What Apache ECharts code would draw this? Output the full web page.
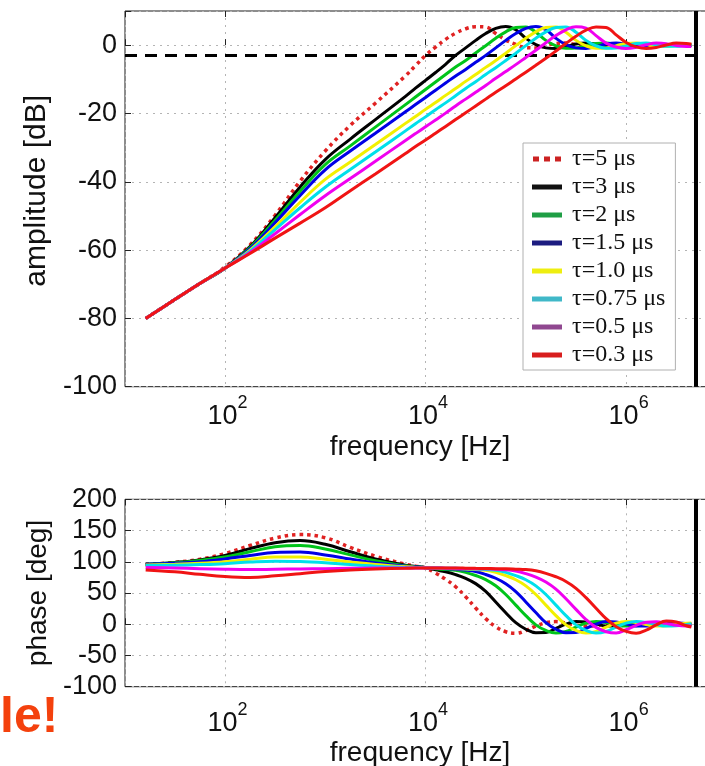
<!DOCTYPE html>
<html><head><meta charset="utf-8">
<script src="https://cdn.jsdelivr.net/npm/echarts@6/dist/echarts.min.js"></script>
<style>html,body{margin:0;padding:0;background:#fff;}#c{width:705px;height:766px;}</style>
</head><body><div id="c"></div>
<script>
// frequency = 10^exp Hz
const freqExp = [1.21, 1.5, 1.75, 2.0, 2.25, 2.5, 2.75, 3.0, 3.25, 3.5, 3.8, 3.9, 4.0, 4.1, 4.2, 4.3, 4.4, 4.5, 4.6, 4.7, 4.8, 4.9, 5.0, 5.1, 5.2, 5.3, 5.4, 5.5, 5.6, 5.7, 5.8, 5.9, 6.0, 6.1, 6.2, 6.3, 6.4, 6.5, 6.6, 6.65];
const seriesNames = ['τ=5 μs', 'τ=3 μs', 'τ=2 μs', 'τ=1.5 μs', 'τ=1.0 μs', 'τ=0.75 μs', 'τ=0.5 μs', 'τ=0.3 μs'];

// amplitude [dB]
const ampTau5   = [-80, -74.5, -69.8, -65.0, -58.5, -49.8, -39.8, -31.0, -23.5, -17.0, -9.0, -6.0, -3.0, -0.6, 1.7, 3.5, 4.8, 5.4, 5.3, 3.4, 1.5, 0.2, -0.7, -0.8, -0.1, 0.5, 0.6, 0.1, -0.4, -0.4, 0.0, 0.25, 0.2, 0.0, -0.1, -0.05, 0.05, 0.05, 0.0, 0.0];
const ampTau3   = [-80, -74.5, -69.8, -65.3, -59.0, -50.5, -41.5, -33.5, -27.5, -21.8, -15.0, -12.6, -10.3, -8.0, -5.6, -3.0, -0.8, 1.4, 3.4, 4.9, 5.45, 4.5, 2.0, 0.15, -0.8, -0.95, -0.4, 0.35, 0.65, 0.3, -0.25, -0.4, -0.15, 0.15, 0.25, 0.1, -0.1, -0.1, 0.0, 0.05];
const ampTau2   = [-80, -74.5, -69.8, -65.3, -59.3, -51.3, -42.8, -35.0, -29.5, -24.0, -17.4, -15.2, -13.0, -10.8, -8.6, -6.4, -4.5, -2.3, -0.15, 2.0, 3.9, 5.2, 5.35, 3.8, 1.4, -0.2, -0.9, -0.85, -0.2, 0.5, 0.6, 0.15, -0.35, -0.35, -0.05, 0.2, 0.2, 0.05, -0.1, -0.1];
const ampTau15  = [-80, -74.5, -69.8, -65.3, -59.6, -52.0, -44.0, -36.5, -31.0, -25.8, -19.5, -17.4, -15.3, -13.2, -11.1, -9.0, -7.1, -5.0, -3.0, -0.8, 1.4, 3.4, 4.9, 5.45, 4.5, 2.0, 0.15, -0.8, -0.95, -0.4, 0.35, 0.65, 0.3, -0.25, -0.4, -0.15, 0.15, 0.25, 0.1, 0.0];
const ampTau10  = [-80, -74.5, -69.8, -65.3, -60.0, -53.2, -46.0, -39.3, -34.2, -29.1, -22.9, -20.9, -18.8, -16.8, -14.7, -12.7, -10.6, -8.6, -6.5, -4.5, -2.35, -0.15, 2.0, 3.9, 5.2, 5.35, 3.8, 1.4, -0.2, -0.9, -0.85, -0.2, 0.5, 0.6, 0.15, -0.35, -0.35, -0.05, 0.2, 0.25];
const ampTau075 = [-80, -74.5, -69.8, -65.3, -60.3, -54.0, -47.6, -41.6, -36.4, -31.3, -25.1, -23.0, -21.0, -18.9, -16.9, -14.8, -12.7, -10.7, -8.6, -6.6, -4.5, -2.35, -0.15, 2.0, 3.9, 5.2, 5.35, 3.8, 1.4, -0.2, -0.9, -0.85, -0.2, 0.5, 0.6, 0.15, -0.35, -0.35, -0.05, 0.1];
const ampTau05  = [-80, -74.5, -69.8, -65.3, -60.7, -55.2, -49.6, -44.1, -39.05, -34.0, -27.9, -25.9, -23.9, -21.9, -19.9, -17.8, -15.8, -13.8, -11.8, -9.7, -7.7, -5.7, -3.6, -1.5, 0.7, 2.8, 4.5, 5.4, 5.0, 2.8, 0.6, -0.55, -1.0, -0.65, 0.1, 0.6, 0.45, -0.1, -0.4, -0.4];
const ampTau03  = [-80, -74.5, -69.8, -65.3, -61.0, -56.5, -52.1, -47.6, -42.6, -37.7, -31.7, -29.7, -27.8, -25.8, -23.8, -21.8, -19.8, -17.8, -15.8, -13.8, -11.9, -9.9, -7.9, -5.9, -3.85, -1.7, 0.5, 2.6, 4.4, 5.35, 5.2, 3.0, 0.8, -0.5, -1.0, -0.7, 0.05, 0.6, 0.5, 0.25];

// phase [deg]
const phTau5   = [96, 99, 104, 113, 126, 138, 143.5, 138.5, 123, 109, 96, 93, 90, 82, 72, 60, 44, 26, 9, -4, -12, -14.5, -10, -3, 2.5, 4.2, 2, -1.5, -3, -2, 0.3, 1.8, 1.5, 0.3, -0.8, -0.8, 0, 0.4, 0.2, 0];
const phTau3   = [96, 99, 103, 110, 121, 130.5, 134, 128, 116, 104.5, 94.5, 92.5, 90.5, 87, 84, 79.5, 73.5, 65, 52.5, 35.5, 18.5, 2.5, -8, -13.5, -13.3, -6.7, 0.3, 4.2, 3.6, 0.4, -2.7, -3, -1.2, 1.3, 2, 1.1, -0.35, -0.95, -0.55, -0.2];
const phTau2   = [96, 98.5, 102, 107.5, 116, 124, 126, 120.5, 111, 101.5, 93.5, 92, 91, 89, 87.5, 86.4, 83, 78, 71.5, 61.5, 47.6, 30.6, 13.8, -1, -10, -14.2, -11.6, -4.6, 1.7, 4.3, 2.8, -0.6, -3, -2.6, -0.5, 1.6, 1.8, 0.7, -0.6, -0.8];
const phTau15  = [96, 97.5, 100, 104.5, 110, 115, 115.5, 111, 104.5, 98, 93, 91.5, 91, 90, 89, 88, 86.7, 84.3, 79.6, 73.6, 64.9, 52.3, 35.7, 18.7, 2.6, -8, -13.5, -13.3, -6.7, 0.3, 4.2, 3.6, 0.4, -2.7, -3, -1.2, 1.3, 2, 1.1, 0.4];
const phTau10  = [95, 96, 97.5, 100, 104, 107.5, 107.5, 104, 99.5, 95.5, 92, 91, 90.5, 90, 89.5, 89, 88.5, 87.5, 86.4, 83, 77.8, 71.2, 61.4, 47.6, 30.6, 13.8, -1, -10, -14.2, -11.6, -4.6, 1.7, 4.3, 2.8, -0.6, -3, -2.6, -0.5, 1.6, 1.8];
const phTau075 = [94, 94.5, 95.5, 97, 99.5, 101, 100.5, 98.5, 95.5, 93, 91, 90.5, 90.3, 90, 89.8, 89.5, 89, 88.5, 87.5, 86.4, 83, 77.8, 71.2, 61.4, 47.6, 30.6, 13.8, -1, -10, -14.2, -11.6, -4.6, 1.7, 4.3, 2.8, -0.6, -3, -2.6, -0.5, 0.6];
const phTau05  = [91, 90, 89, 88, 87.5, 88, 88.5, 89, 89.5, 90, 90, 90, 90, 90, 89.8, 89.5, 89.2, 89, 88.7, 88, 87.3, 85.2, 81, 75.4, 67.6, 56.2, 40.8, 23.8, 7.4, -5, -12, -14.2, -8.8, -1.8, 3.1, 3.9, 1.4, -1.8, -3, -2.8];
const phTau03  = [87, 84, 80, 76.5, 75, 77.5, 81, 84.5, 87, 88.5, 89.5, 90, 90, 90, 90, 90, 89.8, 89.5, 89.3, 89, 88.8, 88.2, 87.5, 85.5, 81.5, 76, 68.5, 57.5, 42.5, 25.5, 9, -4, -11.5, -14.5, -9.5, -1, 5, 3.5, -2.5, -4.5];

const ampTicks = [-100, -80, -60, -40, -20, 0];
const phaseTicks = [-100, -50, 0, 50, 100, 150, 200];
const cutoffLevel = -3;        // dB reference line
const markerFreq = 5e6;        // Hz vertical line

const ampData = [ampTau5, ampTau3, ampTau2, ampTau15, ampTau10, ampTau075, ampTau05, ampTau03];
const phData = [phTau5, phTau3, phTau2, phTau15, phTau10, phTau075, phTau05, phTau03];

const lineColors = ['#e02222', '#000000', '#00c41a', '#0000e6', '#f2f000', '#00e0ea', '#f000f0', '#f01414'];
const legendColors = ['#cc2222', '#111111', '#1f9e45', '#1c1c80', '#eeee10', '#40b8c8', '#904890', '#d81e1e'];

const FONT = "'Liberation Sans', Arial, Helvetica, sans-serif";
const SERIF = "'Liberation Serif', 'Times New Roman', serif";
const X_MIN = Math.pow(10, 1.004);
const X_MAX = Math.pow(10, 6.886);

function xLabelFmt(v) {
  const e = Math.log10(v), r = Math.round(e);
  if (Math.abs(e - r) > 1e-6) return '';
  return '{b|10}{s|' + r + '}';
}
const gridLine = {show: true, lineStyle: {color: '#b4b4b4', type: [2, 5], width: 1}};
const tickStyle = {show: true, inside: true, length: 6, lineStyle: {color: '#222', width: 1}};

function bottomX(gi, labelMargin, nameGap) {
  return {
    type: 'log', logBase: 100, gridIndex: gi, min: X_MIN, max: X_MAX, position: 'bottom',
    name: 'frequency [Hz]', nameLocation: 'middle', nameGap: nameGap,
    nameTextStyle: {fontFamily: FONT, fontSize: 28, color: '#111'},
    axisLine: {show: false}, axisTick: tickStyle, minorTick: {show: false},
    axisLabel: {show: true, margin: labelMargin, formatter: xLabelFmt, color: '#111',
      rich: {
        b: {fontFamily: FONT, fontSize: 27, lineHeight: 46, color: '#111', padding: [0, 0, 0, 5]},
        s: {fontFamily: FONT, fontSize: 18, lineHeight: 18, verticalAlign: 'top', color: '#111'}
      }},
    splitLine: gridLine
  };
}
function topX(gi) {
  return {
    type: 'log', logBase: 100, gridIndex: gi, min: X_MIN, max: X_MAX, position: 'top',
    axisLine: {show: false}, axisTick: tickStyle, axisLabel: {show: false}, splitLine: {show: false}
  };
}
function yAx(gi, min, max, interval, name, nameSize, nameGap, namePad) {
  return {
    type: 'value', gridIndex: gi, min: min, max: max, interval: interval,
    name: name, nameLocation: 'middle', nameGap: nameGap, nameRotate: 90,
    nameTextStyle: {fontFamily: FONT, fontSize: nameSize, color: '#111', padding: namePad},
    axisLine: {show: false}, axisTick: tickStyle,
    axisLabel: {fontFamily: FONT, fontSize: 27, color: '#111', margin: 8,
      formatter: v => ((v === max && max === 10) ? '' : String(v))},
    splitLine: gridLine
  };
}

const dottedIcon = 'path://M0,0h6v5h-6z M11,0h6v5h-6z M22,0h6v5h-6z';

const series = [];
function addSeries(dataSets, xi, yi) {
  dataSets.forEach((arr, i) => {
    series.push({
      name: seriesNames[i], type: 'line', xAxisIndex: xi, yAxisIndex: yi,
      data: freqExp.map((e, k) => [Math.pow(10, e), arr[k]]),
      showSymbol: false, symbol: 'none', smooth: 0.4,
      lineStyle: {color: lineColors[i], width: i === 0 ? 3.5 : 3, type: i === 0 ? [3.5, 4] : 'solid', cap: 'butt'},
      itemStyle: {color: lineColors[i]},
      z: 2 + i
    });
  });
}
addSeries(ampData, 0, 0);
addSeries(phData, 2, 1);
// reference lines
series[7].markLine = {
  silent: true, symbol: 'none', label: {show: false}, animation: false,
  data: [
    {yAxis: cutoffLevel, lineStyle: {color: '#000', width: 3, type: [12, 8]}},
    {xAxis: markerFreq, lineStyle: {color: '#000', width: 4, type: 'solid'}}
  ]
};
series[15].markLine = {
  silent: true, symbol: 'none', label: {show: false}, animation: false,
  data: [{xAxis: markerFreq, lineStyle: {color: '#000', width: 4, type: 'solid'}}]
};

const chart = echarts.init(document.getElementById('c'), null, {renderer: 'canvas'});
chart.setOption({
  animation: false,
  backgroundColor: '#fff',
  grid: [
    {left: 125, top: 11, width: 590, height: 375.7, show: true, borderColor: '#1a1a1a', borderWidth: 1,
     backgroundColor: 'transparent', containLabel: false, outerBoundsMode: 'none'},
    {left: 125, top: 499.3, width: 590, height: 187.4, show: true, borderColor: '#1a1a1a', borderWidth: 1,
     backgroundColor: 'transparent', containLabel: false, outerBoundsMode: 'none'}
  ],
  xAxis: [bottomX(0, 7, 47), topX(0), bottomX(1, 14, 53), topX(1)],
  yAxis: [yAx(0, ampTicks[0], 10, 20, 'amplitude [dB]', 30, 70, [0, 0, 0, 16]),
          yAx(1, phaseTicks[0], phaseTicks[phaseTicks.length - 1], 50, 'phase [deg]', 28, 71, [0, 0, 0, 0])],
  legend: {
    orient: 'vertical', left: 523, top: 143,
    backgroundColor: '#fff', borderColor: '#b0b0b0', borderWidth: 1,
    padding: [4, 10, 3, 9], itemGap: 4, itemWidth: 30, itemHeight: 5,
    textStyle: {fontFamily: SERIF, fontSize: 24, lineHeight: 24, color: '#111', padding: [0, 0, 0, 5]},
    data: seriesNames.map((n, i) => ({name: n, icon: i === 0 ? dottedIcon : 'rect', itemStyle: {color: legendColors[i]}}))
  },
  graphic: [{
    type: 'text', left: 0, top: 693, silent: true,
    style: {text: 'le!', font: 'bold 50px ' + FONT, fill: '#f4410d'}
  }],
  series: series
});
</script>
</body></html>
